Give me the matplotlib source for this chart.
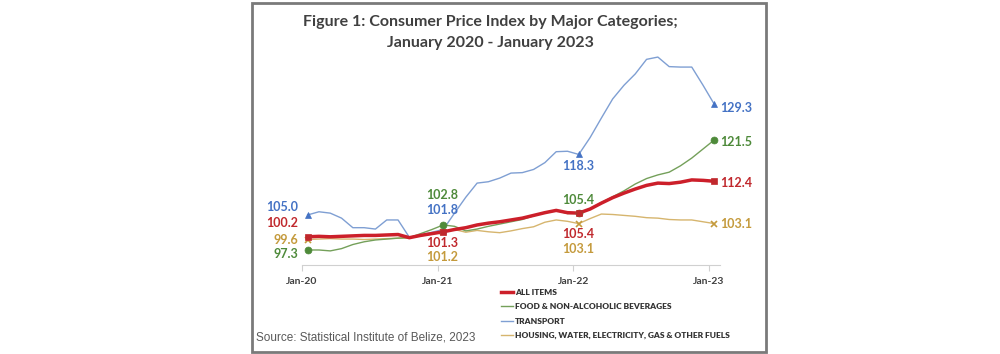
import matplotlib
matplotlib.use('Agg')
import matplotlib.pyplot as plt
from matplotlib.patches import Rectangle

plt.rcParams['font.family'] = ['Lato', 'DejaVu Sans']

# monthly values, Jan-20 .. Jan-23
months = ['Jan-20', 'Jan-21', 'Jan-22', 'Jan-23']
all_items = [100.2, 100.3, 100.2, 100.3, 100.4, 100.5, 100.5, 100.6, 100.7, 100.0, 100.5, 100.9,
             101.3, 101.8, 102.2, 102.8, 103.2, 103.5, 103.9, 104.3, 104.9, 105.5, 106.0, 105.5,
             105.4, 106.3, 107.6, 108.8, 109.8, 110.7, 111.5, 112.0, 111.9, 112.2, 112.7, 112.6,
             112.4]
food = [97.3, 97.3, 97.1, 97.6, 98.5, 99.1, 99.5, 99.7, 99.9, 100.0, 100.9, 101.8,
        102.8, 102.5, 101.5, 101.9, 102.5, 103.0, 103.5, 104.0, 104.8, 105.6, 106.0, 105.3,
        105.4, 106.4, 107.7, 109.0, 110.3, 111.8, 113.0, 113.8, 114.4, 115.8, 117.5, 119.5,
        121.5]
transport = [105.0, 105.7, 105.4, 104.3, 102.2, 102.2, 101.9, 103.9, 103.9, 100.1, 100.6, 101.2,
             101.8, 105.4, 108.9, 112.0, 112.3, 113.1, 114.2, 114.3, 115.0, 116.5, 118.9, 119.0,
             118.3, 122.0, 126.3, 130.5, 133.5, 136.0, 139.2, 139.7, 137.6, 137.5, 137.5, 133.5,
             129.3]
housing = [99.6, 99.7, 99.8, 99.7, 99.7, 99.6, 99.7, 99.8, 99.9, 100.0, 100.4, 100.8,
           101.2, 101.8, 101.2, 101.6, 101.3, 101.1, 101.5, 102.0, 102.4, 103.4, 103.9, 103.6,
           103.1, 104.2, 105.2, 105.1, 104.9, 104.7, 104.4, 104.3, 104.0, 103.9, 103.9, 103.5,
           103.1]

x = list(range(len(all_items)))
marked = [0, 12, 24, 36]

# series: values, label, line colour, label colour, line width, marker, label offsets (px) per marked month
series = [
    (transport, 'TRANSPORT', '#7f9fd3', '#4472c4', 1.0, '^',
     [(-9, 8, 'right'), (-1, 20, 'center'), (-1, -12, 'center'), (6, -4, 'left')]),
    (housing, 'HOUSING, WATER, ELECTRICITY, GAS & OTHER FUELS', '#d6b56e', '#c49a3c', 1.0, 'x',
     [(-9, 0, 'right'), (-1, -25, 'center'), (-1, -25, 'center'), (6, 0, 'left')]),
    (food, 'FOOD & NON-ALCOHOLIC BEVERAGES', '#74a05a', '#4e8a3a', 1.0, 'o',
     [(-9, -4, 'right'), (-1, 30, 'center'), (-1, 13, 'center'), (6, -2, 'left')]),
    (all_items, 'ALL ITEMS', '#cc1f2a', '#c0282d', 2.5, 's',
     [(-9, 14, 'right'), (-1, -11, 'center'), (-1, -21, 'center'), (6, -2, 'left')]),
]

fig = plt.figure(figsize=(10, 3.54), dpi=100)
ax = fig.add_axes([0.302, 89 / 354, 0.418, 209.3 / 354])

for vals, name, lc, tc, lw, mk, offs in series:
    ax.plot(x, vals, color=lc, lw=lw, label=name, solid_joinstyle='round', zorder=3 if lw > 2 else 2)
for vals, name, lc, tc, lw, mk, offs in series:
    ax.plot([x[i] for i in marked], [vals[i] for i in marked], linestyle='none', marker=mk,
            color=tc, markersize=5 if mk != 'x' else 4, mew=1.2 if mk == 'x' else 0.5, zorder=4)
    for i, (dx, dy, ha) in zip(marked, offs):
        ax.annotate(f'{vals[i]:.1f}', (x[i], vals[i]), xytext=(dx, dy), textcoords='offset pixels',
                    ha=ha, va='center', fontsize=9, fontweight='bold', color=tc)

ax.set_xlim(-0.5, 36.5)
ax.set_ylim(94, 140)
ax.set_xticks([-0.5, 11.5, 23.5, 35.5])
ax.set_xticklabels(months, fontsize=7.5, fontweight='bold', color='#404040')
ax.tick_params(axis='x', length=4, color='#d0d0d0', pad=5)
ax.set_yticks([])
for s in ['top', 'right', 'left']:
    ax.spines[s].set_visible(False)
ax.spines['bottom'].set_color('#d0d0d0')
ax.patch.set_alpha(0)

fig.text(0.49, 1 - 22 / 354, 'Figure 1: Consumer Price Index by Major Categories;', ha='center', va='center',
         fontsize=11.5, fontweight='bold', color='#404040')
fig.text(0.49, 1 - 43 / 354, 'January 2020 - January 2023', ha='center', va='center',
         fontsize=11.5, fontweight='bold', color='#404040')

handles, labels = ax.get_legend_handles_labels()
order = [3, 2, 0, 1]
leg = fig.legend([handles[k] for k in order], [labels[k] for k in order], loc='upper left',
                 bbox_to_anchor=(0.501, 1 - 289 / 354), frameon=False,
                 prop={'weight': 'heavy', 'size': 6}, handlelength=1.4, handletextpad=0.25,
                 labelspacing=0.87, borderpad=0, borderaxespad=0, labelcolor='#333333')

fig.text(0.256, 1 - 337 / 354, 'Source: Statistical Institute of Belize, 2023', ha='left', va='center',
         fontsize=8.5, family='Liberation Sans', color='#595959')

fig.add_artist(Rectangle((0.252, 2 / 354), 0.514, 349 / 354, transform=fig.transFigure,
                         fill=False, ec='#7a7a7a', lw=2))

fig.savefig('out.png', dpi=100, facecolor='white')
